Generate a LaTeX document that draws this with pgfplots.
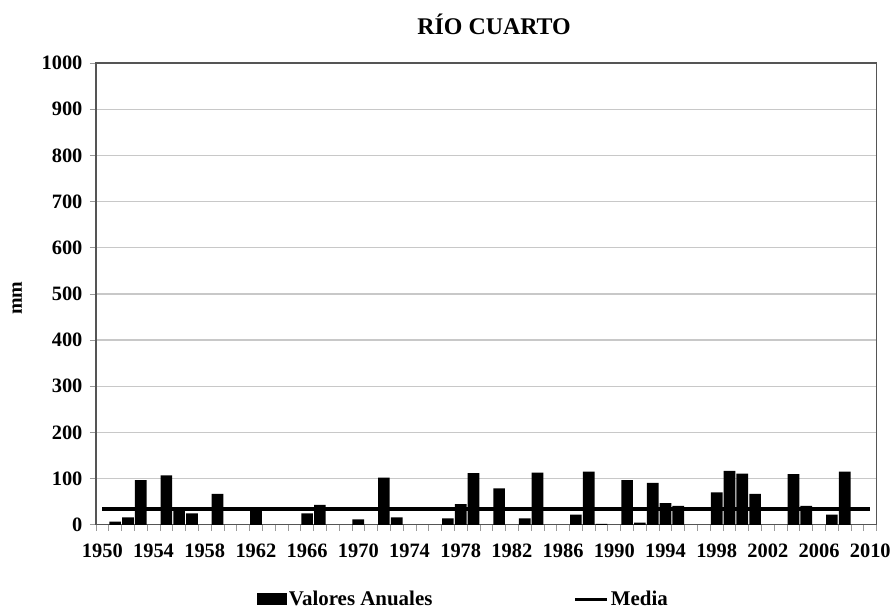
\documentclass[border=0pt]{standalone}
\usepackage{pgfplots}
\pgfplotsset{compat=1.18}
\usepackage{fontspec}
\setmainfont{Liberation Serif}
\definecolor{axisgray}{HTML}{555555}
\definecolor{gridgray}{HTML}{C8C8C8}
\definecolor{tickgray}{HTML}{999999}
\begin{document}
\begin{tikzpicture}
\begin{axis}[
  scale only axis,
  width=781bp, height=462bp,
  xmin=1949.5, xmax=2010.5,
  ymin=0, ymax=1000,
  clip=false,
  axis line style={draw=axisgray, line width=1.2bp},
  xtick={1950,1954,...,2010},
  minor xtick={1949.5,1950.5,...,2010.5},
  major x tick style={draw=none},
  minor x tick style={draw=tickgray, line width=0.8bp},
  ytick={0,100,...,1000},
  y tick style={draw=tickgray, line width=0.8bp},
  xtick pos=bottom, ytick pos=left,
  tick align=outside,
  major tick length=6bp, minor tick length=6bp,
  ymajorgrids,
  major y grid style={draw=gridgray, line width=1.2bp},
  /pgf/number format/assume math mode=true,
  /pgf/number format/1000 sep={},
  tick label style={font=\fontsize{20.5}{24}\selectfont\bfseries},
  xticklabel style={yshift=-10bp},
  yticklabel style={xshift=-4bp},
  title={RÍO CUARTO},
  title style={font=\fontsize{24}{28}\selectfont\bfseries, at={(axis description cs:0.51,1.071)}, anchor=center},
  ylabel={mm},
  ylabel style={font=\fontsize{20}{24}\selectfont\bfseries, at={(axis description cs:-0.101,0.491)}, anchor=center},
  legend columns=2,
  legend style={draw=none, fill=none, at={(axis description cs:0.4706,-0.135)}, anchor=north,
    font=\fontsize{21}{24}\selectfont\bfseries, /tikz/every even column/.append style={column sep=139bp},
    /tikz/every odd column/.append style={}},
]
\addplot[ybar, bar width=0.91, fill=black, draw=none,
  legend image code/.code={\fill[black] (-4bp,-6bp) rectangle (26bp,6bp);}]
coordinates {
(1951,7) (1952,16) (1953,97) (1955,107) (1956,36) (1957,25) (1959,67)
(1962,30) (1966,25) (1967,43) (1970,12) (1972,102) (1973,16)
(1977,14) (1978,45) (1979,112) (1981,79) (1983,14) (1984,113)
(1987,22) (1988,115) (1989,2) (1991,97) (1992,5) (1993,91) (1994,47) (1995,41)
(1998,70) (1999,117) (2000,111) (2001,67) (2004,110) (2005,41)
(2007,22) (2008,115)
};
\addlegendentry{Valores Anuales}
\addplot[black, line width=3.5bp, mark=none,
  legend image code/.code={\draw[black, line width=3.5bp] (-4bp,0bp) -- (28bp,0bp);}]
coordinates {(1950,34.6) (2010,34.6)};
\addlegendentry{Media}
\path (axis description cs:-0.1229,1.1364) rectangle (axis description cs:1.0218,-0.1818);
\end{axis}
\end{tikzpicture}
\end{document}
